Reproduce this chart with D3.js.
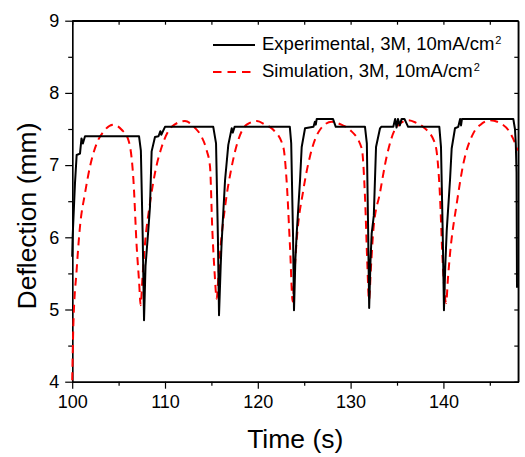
<!DOCTYPE html>
<html>
<head>
<meta charset="utf-8">
<script src="https://cdn.jsdelivr.net/npm/d3@7"></script>
<style>
  body { margin: 0; background: #fff; }
  svg { display: block; font-family: "Liberation Sans", Arial, sans-serif; }
</style>
</head>
<body>
<svg id="chart" width="525" height="457"></svg>
<script>
// experimental curve (time s, deflection mm)
const expTime = [100.0, 100.05, 100.3, 100.48, 100.84, 101.0, 101.15, 101.38, 107.2, 107.4, 107.6, 107.74, 107.9, 108.2, 108.38, 108.56, 108.92, 109.3, 109.5, 109.6, 110.0,
  115.2, 115.5, 115.7, 115.82, 116.0, 116.1, 116.47, 116.82, 117.19, 117.3, 117.5,
  123.45, 123.6, 123.8, 123.9, 124.05, 124.19, 124.55, 124.73, 125.09, 126.0, 126.15, 126.25, 126.35, 128.1, 128.4,
  131.55, 131.75, 131.9, 132.0, 132.15, 132.27, 132.5, 132.74, 133.17, 133.3, 134.6, 134.8, 134.95, 135.1, 135.3, 135.5, 135.8, 136.2,
  139.56, 139.74, 139.92, 140.06, 140.2, 140.36, 140.71, 140.89, 141.25, 141.6, 141.8, 141.9, 142.0,
  147.53, 147.71, 147.8, 147.88, 147.93];
const expDefl = [5.73, 6.01, 6.75, 7.14, 7.16, 7.37, 7.30, 7.40, 7.40, 7.2, 6.0, 4.85, 5.6, 6.1, 6.42, 7.19, 7.39, 7.40, 7.47, 7.42, 7.53,
  7.53, 7.30, 6.0, 4.92, 5.6, 5.92, 6.79, 7.28, 7.51, 7.45, 7.53,
  7.53, 7.30, 6.0, 4.99, 5.7, 6.05, 6.79, 7.25, 7.51, 7.53, 7.60, 7.56, 7.64, 7.64, 7.53,
  7.53, 7.30, 6.0, 5.02, 5.7, 6.05, 6.3, 7.25, 7.51, 7.53, 7.53, 7.64, 7.52, 7.64, 7.55, 7.64, 7.64, 7.53,
  7.53, 7.25, 6.10, 4.99, 5.6, 6.10, 6.79, 7.23, 7.51, 7.53, 7.64, 7.55, 7.64,
  7.64, 7.50, 7.3, 6.9, 5.3];

// simulation curve
const simTime = [100.0, 100.12, 100.48, 100.84, 101.38, 101.92, 102.64, 103.35, 104.43, 105.33, 106.05, 106.6, 106.95, 107.2, 107.38, 107.55, 107.85,
  108.38, 108.92, 109.64, 110.72, 112.15, 113.2, 113.95, 114.5, 114.85, 115.1, 115.35, 115.57, 115.75, 115.93,
  116.47, 117.19, 117.9, 118.8, 119.9, 120.8, 121.67, 122.75, 123.1, 123.47, 123.76, 123.95, 124.19,
  124.9, 125.62, 126.7, 127.96, 129.0, 129.92, 131.2, 131.55, 131.8, 131.98, 132.2, 132.45,
  133.17, 133.89, 134.97, 136.2, 137.0, 137.8, 139.1, 139.6, 139.93, 140.29, 140.5, 140.72,
  141.44, 142.15, 143.22, 144.0, 145.0, 146.4, 147.5, 148.0];
const simDefl = [4.02, 4.76, 5.55, 6.15, 6.61, 6.98, 7.30, 7.46, 7.56, 7.49, 7.35, 6.79, 5.87, 5.4, 5.06, 5.4, 5.92,
  6.47, 6.89, 7.25, 7.53, 7.61, 7.52, 7.39, 7.2, 6.98, 6.10, 5.5, 5.15, 5.45, 5.78,
  6.42, 6.98, 7.35, 7.56, 7.61, 7.56, 7.49, 7.25, 6.79, 5.87, 5.11, 5.5, 5.96,
  6.65, 7.12, 7.49, 7.60, 7.56, 7.49, 7.23, 6.56, 5.64, 5.13, 5.6, 6.10,
  6.62, 7.12, 7.53, 7.62, 7.59, 7.53, 7.30, 6.65, 5.64, 5.09, 5.45, 5.78,
  6.47, 7.02, 7.44, 7.56, 7.62, 7.56, 7.37, 7.2];

const xTicks = [100, 110, 120, 130, 140];
const yTicks = [4, 5, 6, 7, 8, 9];
const legendLabels = ['Experimental, 3M, 10mA/cm', 'Simulation, 3M, 10mA/cm'];

const svg = d3.select('#chart');
const margin = {left: 72.2, top: 20.7, right: 525 - 518.3, bottom: 457 - 381.7};
const W = 525 - margin.left - margin.right;
const H = 457 - margin.top - margin.bottom;

const x = d3.scaleLinear().domain([100, 148.07]).range([0, W]);
const y = d3.scaleLinear().domain([4, 9]).range([H, 0]);

const g = svg.append('g').attr('transform', `translate(${margin.left},${margin.top})`);

g.append('clipPath').attr('id', 'clip')
  .append('rect').attr('x', -2).attr('width', W + 2).attr('height', H);

// axes
const xMinor = d3.range(105, 148, 10);
const yMinor = d3.range(4.5, 9, 1);

function styleAxis(sel) {
  sel.select('.domain').attr('stroke', '#000').attr('stroke-width', 1.4);
  sel.selectAll('.tick line').attr('stroke', '#000').attr('stroke-width', 1.2);
  sel.selectAll('.tick text').attr('font-size', 18).attr('fill', '#000')
    .attr('font-family', '"Liberation Sans", Arial, sans-serif');
}

g.append('g').attr('transform', `translate(0,${H})`)
  .call(d3.axisBottom(x).tickValues(xTicks).tickSize(7).tickPadding(7).tickSizeOuter(0).tickFormat(d3.format('d')))
  .call(styleAxis);
g.append('g').attr('transform', `translate(0,${H})`)
  .call(d3.axisBottom(x).tickValues(xMinor).tickSize(4).tickFormat('').tickSizeOuter(0))
  .call(styleAxis);
g.append('g')
  .call(d3.axisLeft(y).tickValues(yTicks).tickSize(7).tickPadding(6).tickSizeOuter(0).tickFormat(d3.format('d')))
  .call(styleAxis);
g.append('g')
  .call(d3.axisLeft(y).tickValues(yMinor).tickSize(4).tickFormat('').tickSizeOuter(0))
  .call(styleAxis);
// mirror axes, ticks inward
g.append('g')
  .call(d3.axisBottom(x).tickValues(xTicks.concat(xMinor)).tickSize(4).tickFormat('').tickSizeOuter(0))
  .call(styleAxis);
g.append('g').attr('transform', `translate(${W},0)`)
  .call(d3.axisRight(y).tickValues(yTicks.concat(yMinor)).tickSize(-4).tickFormat('').tickSizeOuter(0))
  .call(styleAxis);
g.append('line').attr('x1', W).attr('x2', W).attr('y1', 0).attr('y2', H)
  .attr('stroke', '#000').attr('stroke-width', 1.4);
g.append('line').attr('x1', 0).attr('x2', W).attr('y1', 0).attr('y2', 0)
  .attr('stroke', '#000').attr('stroke-width', 1.4);

// lines
const expData = expTime.map((t, i) => [t, expDefl[i]]);
const simData = simTime.map((t, i) => [t, simDefl[i]]);

g.append('path')
  .datum(simData)
  .attr('clip-path', 'url(#clip)')
  .attr('fill', 'none')
  .attr('stroke', '#f00')
  .attr('stroke-width', 2)
  .attr('stroke-dasharray', '8,5.5')
  .attr('d', d3.line().x(d => x(d[0])).y(d => y(d[1])).curve(d3.curveMonotoneX));

g.append('path')
  .datum(expData)
  .attr('clip-path', 'url(#clip)')
  .attr('fill', 'none')
  .attr('stroke', '#000')
  .attr('stroke-width', 2)
  .attr('stroke-linejoin', 'round')
  .attr('d', d3.line().x(d => x(d[0])).y(d => y(d[1])));

// axis titles
svg.append('text')
  .attr('x', margin.left + W / 2).attr('y', 448)
  .attr('text-anchor', 'middle').attr('font-size', 26.5)
  .text('Time (s)');
svg.append('text')
  .attr('transform', 'translate(36,216) rotate(-90)')
  .attr('text-anchor', 'middle').attr('font-size', 26.5)
  .text('Deflection (mm)');

// legend
const legend = svg.append('g').attr('transform', 'translate(213,45)');
const styles = [{stroke: '#000', dash: null}, {stroke: '#f00', dash: '8.5,6'}];
legendLabels.forEach((lab, i) => {
  const row = legend.append('g').attr('transform', `translate(0,${i * 27})`);
  row.append('line').attr('x1', 0).attr('x2', 42).attr('y1', 0).attr('y2', 0)
    .attr('stroke', styles[i].stroke).attr('stroke-width', 2)
    .attr('stroke-dasharray', styles[i].dash);
  const t = row.append('text').attr('x', 49).attr('y', 5).attr('font-size', 18.5).text(lab);
  t.append('tspan').attr('font-size', 11).attr('dx', 1).attr('dy', -6.5).text('2');
});
</script>
</body>
</html>
